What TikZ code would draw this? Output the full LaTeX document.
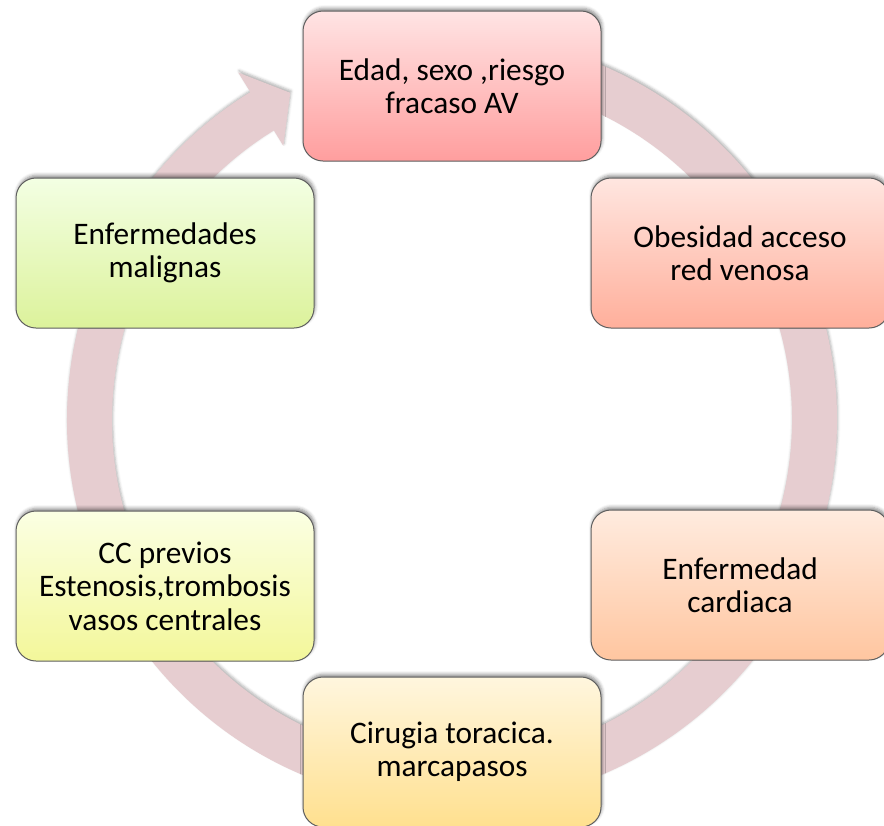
\documentclass[tikz,border=0pt]{standalone}
\usepackage{fontspec}
\setmainfont{Carlito}
\usepackage{tikz}
\usetikzlibrary{shadows.blur}
\usepackage[table]{xcolor}

\definecolor{ringpink}{RGB}{230,205,208}
\definecolor{boxline}{RGB}{95,95,95}

\tikzset{
  box/.style={draw=boxline, line width=0.75pt, rounded corners=15pt,
    minimum width=223.5pt, minimum height=112.5pt, align=center,
    font=\fontsize{23.5}{25}\selectfont,
    blur shadow={shadow xshift=0.8pt, shadow yshift=2pt, shadow blur radius=2.5pt, shadow opacity=45}},
  ring/.style={fill=ringpink,
    blur shadow={shadow xshift=0.6pt, shadow yshift=1.5pt, shadow blur radius=2pt, shadow opacity=30}}
}

\begin{document}
\begin{tikzpicture}[x=0.75pt,y=0.75pt,yscale=-1,xscale=1]
\useasboundingbox (0,0) rectangle (884,825);

%Circular arrow behind the boxes
\begin{scope}[shift={(452,420)}]
\path[ring] (-86:385) arc[start angle=-86, end angle=238.4, radius=385]
  -- (238.4:408) -- (243.7:365) -- (238.4:322) -- (238.4:340)
  arc[start angle=238.4, end angle=-86, radius=340] -- cycle;
\end{scope}

%Boxes
\node[box, top color={rgb,255:red,255;green,228;blue,228}, bottom color={rgb,255:red,255;green,158;blue,158}] (edad) at (452,86) {Edad, sexo ,riesgo\\fracaso AV};
\node[box, top color={rgb,255:red,255;green,230;blue,224}, bottom color={rgb,255:red,255;green,175;blue,155}] (obesidad) at (740,253) {Obesidad acceso\\red venosa};
\node[box, top color={rgb,255:red,255;green,235;blue,223}, bottom color={rgb,255:red,255;green,198;blue,160}] (cardiaca) at (740,585) {Enfermedad\\cardiaca};
\node[box, top color={rgb,255:red,255;green,246;blue,222}, bottom color={rgb,255:red,255;green,224;blue,143}] (cirugia) at (452,752) {Cirugia toracica.\\marcapasos};
\node[box, top color={rgb,255:red,251;green,255;blue,227}, bottom color={rgb,255:red,243;green,247;blue,154}] (previos) at (165,586) {CC previos\\Estenosis,trombosis\\vasos centrales};
\node[box, top color={rgb,255:red,243;green,255;blue,227}, bottom color={rgb,255:red,220;green,242;blue,155}] (malignas) at (165,253) {Enfermedades\\malignas};

\end{tikzpicture}
\end{document}
